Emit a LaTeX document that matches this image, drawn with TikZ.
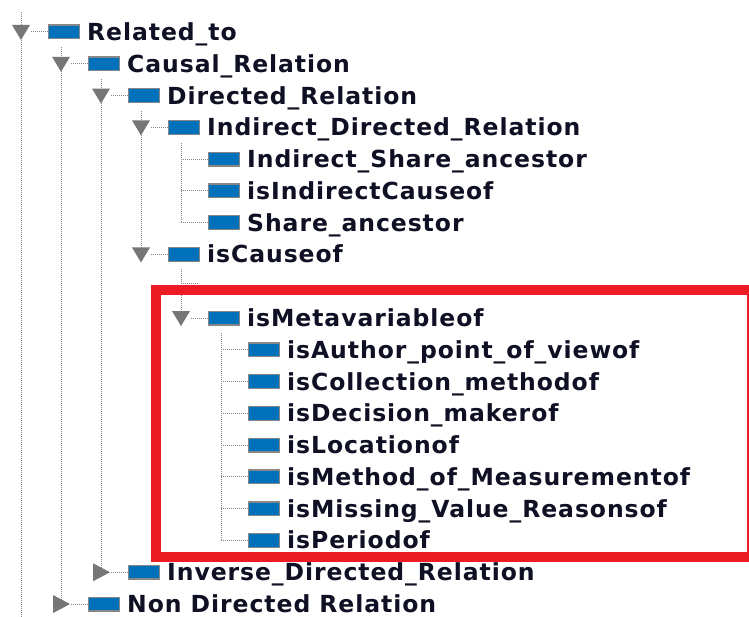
\documentclass[tikz,border=0pt]{standalone}
\usepackage{fontspec}
\newfontfamily\treefont[LetterSpace=4]{DejaVu Sans}
\definecolor{boxred}{RGB}{237,28,36}
\definecolor{iconblue}{RGB}{0,114,188}
\definecolor{icongray}{RGB}{135,135,135}
\definecolor{handlegray}{RGB}{118,118,118}
\definecolor{dotgray}{RGB}{135,135,135}
\definecolor{txt}{RGB}{16,16,36}
\newcommand\treeitem[4]{% name, level, row, text
  \pgfmathsetmacro\hx{21+40*#2}\pgfmathsetmacro\vy{32+31.78*#3}%
  \coordinate (#1-j) at (\hx,\vy);
  \node[icon] (#1-i) at (\hx+43,\vy) {};
  \node[lbl] (#1) at (\hx+66,\vy+8.5) {#4};
}
\newcommand\leafline[1]{\draw[tree] (#1-j) -- (#1-i.west);}
\newcommand\downhandle[1]{%
  \draw[tree] ([xshift=10pt]#1-j) -- (#1-i.west);
  \fill[handlegray] (#1-j) ++(-9,-7) -- ++(18,0) -- ++(-9,15) -- cycle;}
\newcommand\righthandle[1]{%
  \draw[tree] ([xshift=10pt]#1-j) -- (#1-i.west);
  \fill[handlegray] (#1-j) ++(-8,-9) -- ++(0,18) -- ++(17,-9) -- cycle;}
\begin{document}
\begin{tikzpicture}[x=1pt,y=-1pt,
  tree/.style={dotgray,line width=1pt,dash pattern=on 1pt off 1pt},
  icon/.style={rectangle,fill=iconblue,draw=icongray,line width=1.3pt,minimum width=30.7pt,minimum height=13.7pt,inner sep=0pt},
  lbl/.style={anchor=base west,inner sep=0pt,text=txt,font=\treefont\bfseries\fontsize{23.5}{27}\selectfont}]
\useasboundingbox[fill=white] (0,0) rectangle (749,617);

\treeitem{rel}{0}{0}{Related\_to}
\treeitem{causal}{1}{1}{Causal\_Relation}
\treeitem{dir}{2}{2}{Directed\_Relation}
\treeitem{indir}{3}{3}{Indirect\_Directed\_Relation}
\treeitem{isa}{4}{4}{Indirect\_Share\_ancestor}
\treeitem{iic}{4}{5}{isIndirectCauseof}
\treeitem{sha}{4}{6}{Share\_ancestor}
\treeitem{cause}{3}{7}{isCauseof}
\treeitem{meta}{4}{9}{isMetavariableof}
\treeitem{auth}{5}{10}{isAuthor\_point\_of\_viewof}
\treeitem{coll}{5}{11}{isCollection\_methodof}
\treeitem{dec}{5}{12}{isDecision\_makerof}
\treeitem{loc}{5}{13}{isLocationof}
\treeitem{meth}{5}{14}{isMethod\_of\_Measurementof}
\treeitem{miss}{5}{15}{isMissing\_Value\_Reasonsof}
\treeitem{per}{5}{16}{isPeriodof}
\treeitem{inv}{2}{17}{Inverse\_Directed\_Relation}
\treeitem{non}{1}{18}{Non Directed Relation}

% vertical tree lines
\coordinate (top0) at (21,12);
\coordinate (bot0) at (21,617);
\draw[tree] (top0) -- (bot0);
\draw[tree] (61,47) -- (non-j);
\draw[tree] (101,79) -- (inv-j);
\draw[tree] (141,111) -- (cause-j);
\draw[tree] (181,143) -- (sha-j);
\draw[tree] (181,269) -- (meta-j);
\draw[tree] (221,333) -- (per-j);
% stub of the hidden row
\coordinate (hid-a) at (181,284);
\coordinate (hid-b) at (199,284);
\draw[tree] (hid-a) -- (hid-b);

% connectors and handles
\foreach \n in {isa,iic,sha,auth,coll,dec,loc,meth,miss,per} {\leafline{\n}}
\foreach \n in {rel,causal,dir,indir,cause,meta} {\downhandle{\n}}
\foreach \n in {inv,non} {\righthandle{\n}}

% red highlight frame
\draw[boxred,line width=10pt] (155.5,290) rectangle (752,556.5);
\end{tikzpicture}
\end{document}
